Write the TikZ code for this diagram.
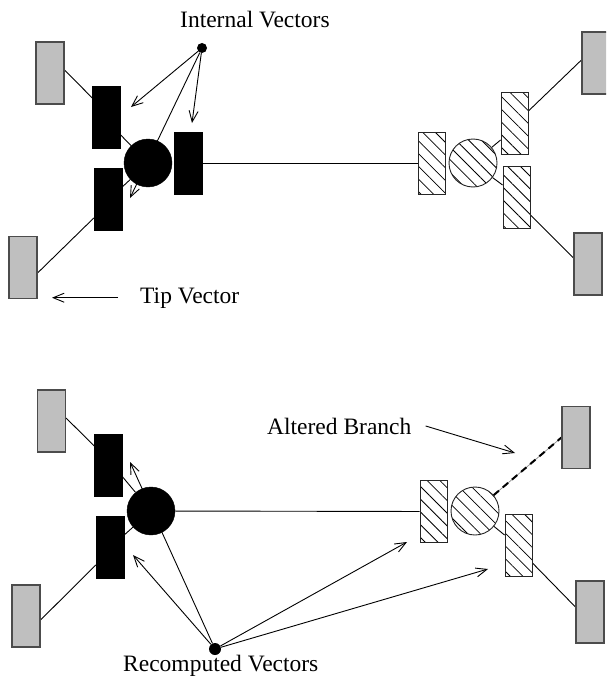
\documentclass[tikz,border=0pt]{standalone}
\usepackage{fontspec}
\setmainfont{Liberation Serif}
\usetikzlibrary{arrows.meta,patterns.meta,backgrounds}

\begin{document}
\begin{tikzpicture}[x=1pt,y=-1pt,
  leaf/.style={draw=black!70, line width=1.1pt, fill=black!25,
    minimum width=28pt, minimum height=62pt, inner sep=0pt},
  blk/.style={draw=black, fill=black,
    minimum width=28pt, minimum height=62pt, inner sep=0pt},
  hatchbox/.style={draw=black!85, line width=0.9pt, preaction={fill=white},
    pattern={Lines[angle=-45,distance=9pt,line width=0.8pt]},
    minimum width=27pt, minimum height=62pt, inner sep=0pt},
  hub/.style={circle, draw=black, fill=black, minimum size=48pt, inner sep=0pt},
  hhub/.style={circle, draw=black!85, line width=0.9pt, preaction={fill=white},
    pattern={Lines[angle=-45,distance=9pt,line width=0.8pt]},
    minimum size=48pt, inner sep=0pt},
  dot/.style={circle, fill=black, minimum size=#1, inner sep=0pt},
  dot/.default=10pt,
  edge/.style={line width=0.9pt},
  vec/.style={line width=0.9pt, -{Straight Barb[length=11pt,width=9pt]}},
  lbl/.style={font=\fontsize{23.5}{28}\selectfont, inner sep=0pt, anchor=base west}
]
\path[use as bounding box, clip] (0,0) rectangle (606,677);

% ---------------- upper tree ----------------
\node[leaf] (A1) at (50,73) {};
\node[leaf] (A2) at (23,267.5) {};
\node[blk]  (B1) at (106.5,117) {};
\node[blk]  (B2) at (108,199.5) {};
\node[hub]  (C1) at (148,163) {};
\node[blk]  (B3) at (188.5,163) {};
\node[hatchbox] (H0) at (431.5,163) {};
\node[hhub] (HC1) at (473,163) {};
\node[hatchbox] (H1) at (514.5,123) {};
\node[hatchbox] (H2) at (516.5,197.5) {};
\node[leaf] (G1) at (596,63) {};
\node[leaf] (G2) at (588,264) {};
\node[dot]  (D1) at (202,48) {};

\node[lbl] (intl) at (180,28) {Internal Vectors};
\node[lbl] (tipl) at (140,303) {Tip Vector};

\coordinate (v1) at (131,107);
\coordinate (v2) at (192,123);
\coordinate (v3) at (130,198);
\coordinate (tipstart) at ([xshift=-22pt]tipl.west);
\coordinate (tipend) at (tipstart -| 52,0);

% ---------------- lower tree ----------------
\node[leaf] (A3) at (51.5,421) {};
\node[leaf] (A4) at (26,616) {};
\node[blk]  (B4) at (108.5,465.5) {};
\node[blk]  (B5) at (110,547.5) {};
\node[hub]  (C2) at (151,511) {};
\node[hatchbox] (H3) at (433.5,511.5) {};
\node[hhub] (HC2) at (475,511) {};
\node[hatchbox] (H4) at (518.5,545.5) {};
\node[leaf] (G3) at (576,437.5) {};
\node[leaf] (G4) at (590,612) {};
\node[dot=12pt] (D2) at (215,649) {};

\node[lbl] (altl) at (267,434) {Altered Branch};
\node[lbl] (recl) at (123,671) {Recomputed Vectors};

\coordinate (w1) at (130,462);
\coordinate (w2) at (133,555);
\coordinate (w3) at (407,542);
\coordinate (w4) at (488,569);
\coordinate (altend) at (515,453);

\begin{pgfonlayer}{background}
  % branches of the upper tree
  \draw[edge] (A1.east |- 0,70) -- (B1.west |- 0,98);
  \draw[edge] (B1.east |- 0,135) -- (C1);
  \draw[edge] (B2.east |- 0,187) -- (C1);
  \draw[edge] (A2.east |- 0,273) -- (B2.west |- 0,218);
  \draw[edge] (B3) -- (H0);
  \draw[edge] (HC1) -- (H1.west |- 0,140);
  \draw[edge] (HC1) -- (H2.west |- 0,185);
  \draw[edge] (H1.east |- 0,111) -- (G1.west |- 0,60);
  \draw[edge] (H2.east |- 0,215) -- (G2.west |- 0,258);
  % internal vectors
  \draw[vec] (D1) -- (v1);
  \draw[vec] (D1) -- (v2);
  \draw[vec] (D1) -- (v3);
  \draw[vec] (tipstart) -- (tipend);

  % branches of the lower tree
  \draw[edge] (A3.east |- 0,418) -- (B4.west |- 0,446);
  \draw[edge] (B4.east |- 0,477) -- (C2);
  \draw[edge] (B5.east |- 0,535) -- (C2);
  \draw[edge] (A4.east |- 0,620) -- (B5.west |- 0,565);
  \draw[edge] (C2) -- (H3);
  \draw[edge] (HC2) -- (H4.west |- 0,535);
  \draw[edge] (H4.east |- 0,563) -- (G4.west |- 0,607);
  % altered branch
  \draw[line width=0.7pt, black!45] (HC2) -- (G3.west);
  \draw[line width=2pt, dash pattern=on 7pt off 5pt] (HC2) -- (G3.west);
  % recomputed vectors
  \draw[vec] (D2) -- (w1);
  \draw[vec] (D2) -- (w2);
  \draw[vec] (D2) -- (w3);
  \draw[vec] (D2) -- (w4);
  \draw[vec] ([xshift=14pt]altl.east) -- (altend);
\end{pgfonlayer}
\end{tikzpicture}
\end{document}
